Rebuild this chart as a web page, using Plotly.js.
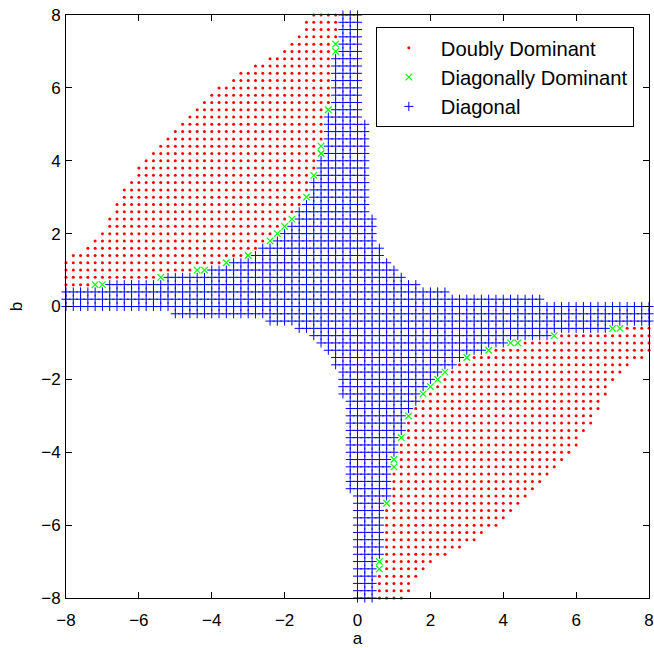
<!DOCTYPE html>
<html>
<head>
<meta charset="utf-8">
<script src="https://cdn.plot.ly/plotly-3.0.1.min.js"></script>
<style>html,body{margin:0;padding:0;background:#fff}</style>
</head>
<body>
<div id="plot" style="width:654px;height:648px"></div>
<script>
// Row values of b (grid step 0.2), top to bottom
const bRows = [8,7.8,7.6,7.4,7.2,7.0,6.8,6.6,6.4,6.2,6.0,5.8,5.6,5.4,5.2,5.0,4.8,4.6,4.4,4.2,4.0,3.8,3.6,3.4,3.2,3.0,2.8,2.6,2.4,2.2,2.0,1.8,1.6,1.4,1.2,1.0,0.8,0.6,0.4,0.2,0,
  -0.2,-0.4,-0.6,-0.8,-1.0,-1.2,-1.4,-1.6,-1.8,-2.0,-2.2,-2.4,-2.6,-2.8,-3.0,-3.2,-3.4,-3.6,-3.8,-4.0,-4.2,-4.4,-4.6,-4.8,-5.0,-5.2,-5.4,-5.6,-5.8,-6.0,-6.2,-6.4,-6.6,-6.8,-7.0,-7.2,-7.4,-7.6,-7.8,-8.0];

// "Doubly Dominant" run on each row: first and last a value (null = none)
const redStart = [-1.2,-1.4,-1.4,-1.6,-1.8,-2.0,-2.4,-2.8,-3.2,-3.4,-3.8,-4.0,-4.2,-4.4,-4.6,-4.8,-5.0,-5.2,-5.4,-5.6,-5.8,-6.0,-6.0,-6.2,-6.4,-6.4,-6.6,-6.6,-6.8,-6.8,-7.0,-7.2,-7.4,-7.8,-8,-8,-8,-8,null,null,null,
  null,null,7.4,5.6,4.6,3.8,3.2,2.8,2.6,2.4,2.2,2.0,1.8,1.6,1.6,1.4,1.4,1.4,1.2,1.2,1.2,1.2,1.0,1.0,1.0,1.0,1.0,0.8,0.8,0.8,0.8,0.8,0.8,0.8,0.8,0.8,0.6,0.6,0.6,0.6];
const redEnd = [-0.6,-0.6,-0.6,-0.6,-0.8,-0.8,-0.8,-0.8,-0.8,-0.8,-0.8,-0.8,-0.8,-1.0,-1.0,-1.0,-1.0,-1.0,-1.2,-1.2,-1.2,-1.2,-1.4,-1.4,-1.4,-1.6,-1.6,-1.8,-2.0,-2.2,-2.4,-2.6,-2.8,-3.2,-3.8,-4.6,-5.6,-7.4,null,null,null,
  null,null,8,8,8,8,7.8,7.4,7.2,7.0,6.8,6.8,6.6,6.6,6.4,6.4,6.2,6.0,6.0,5.8,5.6,5.4,5.2,5.0,4.8,4.6,4.4,4.2,4.0,3.8,3.4,3.2,2.8,2.4,2.0,1.8,1.6,1.4,1.4,1.2];

// "Diagonal" run on each row
const blueStart = [-0.4,-0.4,-0.4,-0.4,-0.4,-0.4,-0.6,-0.6,-0.6,-0.6,-0.6,-0.6,-0.6,-0.6,-0.8,-0.8,-0.8,-0.8,-0.8,-0.8,-1.0,-1.0,-1.0,-1.2,-1.2,-1.2,-1.4,-1.6,-1.6,-1.8,-2.0,-2.2,-2.6,-2.8,-3.4,-4.0,-5.2,-6.8,-8,-8,-8,
  -5.0,-2.4,-1.6,-1.2,-1.0,-0.8,-0.6,-0.6,-0.4,-0.4,-0.4,-0.4,-0.2,-0.2,-0.2,-0.2,-0.2,-0.2,-0.2,-0.2,-0.2,-0.2,-0.2,-0.2,-0.2,0,0,0,0,0,0,0,0,0,0,0,0,0,0,0];
const blueEnd = [0,0,0,0,0,0,0,0,0,0,0,0,0,0,0,0.2,0.2,0.2,0.2,0.2,0.2,0.2,0.2,0.2,0.2,0.2,0.2,0.2,0.4,0.4,0.4,0.4,0.6,0.6,0.8,1.0,1.2,1.6,2.4,5.0,8,
  8,8,6.8,5.2,4.0,3.4,2.8,2.6,2.2,2.0,1.8,1.6,1.6,1.4,1.2,1.2,1.2,1.0,1.0,1.0,0.8,0.8,0.8,0.8,0.8,0.8,0.6,0.6,0.6,0.6,0.6,0.6,0.6,0.6,0.4,0.4,0.4,0.4,0.4,0.4];

// "Diagonally Dominant" points
const greenA = [-7.2,-7.0,-5.4,-4.4,-4.2,-3.6,-3.0,-2.4,-2.2,-2.0,-1.8,-1.4,-1.2,-1.0,-1.0,-0.8,-0.6,-0.6,
  7.2,7.0,5.4,4.4,4.2,3.6,3.0,2.4,2.2,2.0,1.8,1.4,1.2,1.0,1.0,0.8,0.6,0.6];
const greenB = [0.6,0.6,0.8,1.0,1.0,1.2,1.4,1.8,2.0,2.2,2.4,3.0,3.6,4.2,4.4,5.4,7.0,7.2,
  -0.6,-0.6,-0.8,-1.0,-1.0,-1.2,-1.4,-1.8,-2.0,-2.2,-2.4,-3.0,-3.6,-4.2,-4.4,-5.4,-7.0,-7.2];

const tickVals = [-8,-6,-4,-2,0,2,4,6,8];

function expandRuns(starts, ends) {
  const xs = [], ys = [];
  for (let i = 0; i < bRows.length; i++) {
    if (starts[i] === null || ends[i] === null) continue;
    const k0 = Math.round(starts[i] * 5), k1 = Math.round(ends[i] * 5);
    for (let k = k0; k <= k1; k++) { xs.push(k / 5); ys.push(bRows[i]); }
  }
  return {xs, ys};
}
const red = expandRuns(redStart, redEnd);
const blue = expandRuns(blueStart, blueEnd);

const FONT = 'Liberation Sans, Arial, Helvetica, sans-serif';

const traces = [
  {type:'scatter', mode:'markers', name:'Doubly Dominant', x:red.xs, y:red.ys, cliponaxis:false,
   legendgroup:'g1',
   marker:{symbol:'circle', size:3, color:'#ff0000', line:{width:0}}},
  {type:'scatter', mode:'markers', name:'Diagonally Dominant', x:greenA, y:greenB, cliponaxis:false,
   legendgroup:'g2',
   marker:{symbol:'x-thin-open', size:6.5, color:'#00ff00', line:{color:'#00ff00', width:1.2}}},
  {type:'scatter', mode:'markers', name:'Diagonal', x:blue.xs, y:blue.ys, cliponaxis:false,
   legendgroup:'g3',
   marker:{symbol:'cross-thin-open', size:6.5, color:'#0000ff', line:{color:'#0000ff', width:1}}}
];

const axisCommon = {
  range:[-8,8], tickmode:'array', tickvals:tickVals,
  ticks:'inside', ticklen:6, tickwidth:1, tickcolor:'#000',
  showline:true, linecolor:'#000', linewidth:1, mirror:'ticks',
  showgrid:false, zeroline:false, automargin:false,
  tickfont:{family:FONT, size:17, color:'#000'}
};

const layout = {
  width:654, height:648,
  margin:{l:66, r:5, t:15, b:50},
  paper_bgcolor:'#fff', plot_bgcolor:'#fff',
  font:{family:FONT, color:'#000'},
  xaxis:Object.assign({}, axisCommon, {ticklabelstandoff:7,
    title:{text:'a', font:{family:FONT, size:17, color:'#000'}, standoff:5}}),
  yaxis:Object.assign({}, axisCommon, {ticklabelstandoff:1,
    title:{text:'b', font:{family:FONT, size:17, color:'#000'}, standoff:14}}),
  showlegend:true,
  legend:{x:0.974, xanchor:'right', y:0.979, yanchor:'top',
    bgcolor:'#fff', bordercolor:'#000', borderwidth:1,
    font:{family:FONT, size:20.2, color:'#000'},
    itemwidth:54, tracegroupgap:3, traceorder:'normal'}
};

Plotly.newPlot('plot', traces, layout, {staticPlot:true, displayModeBar:false});
</script>
</body>
</html>
